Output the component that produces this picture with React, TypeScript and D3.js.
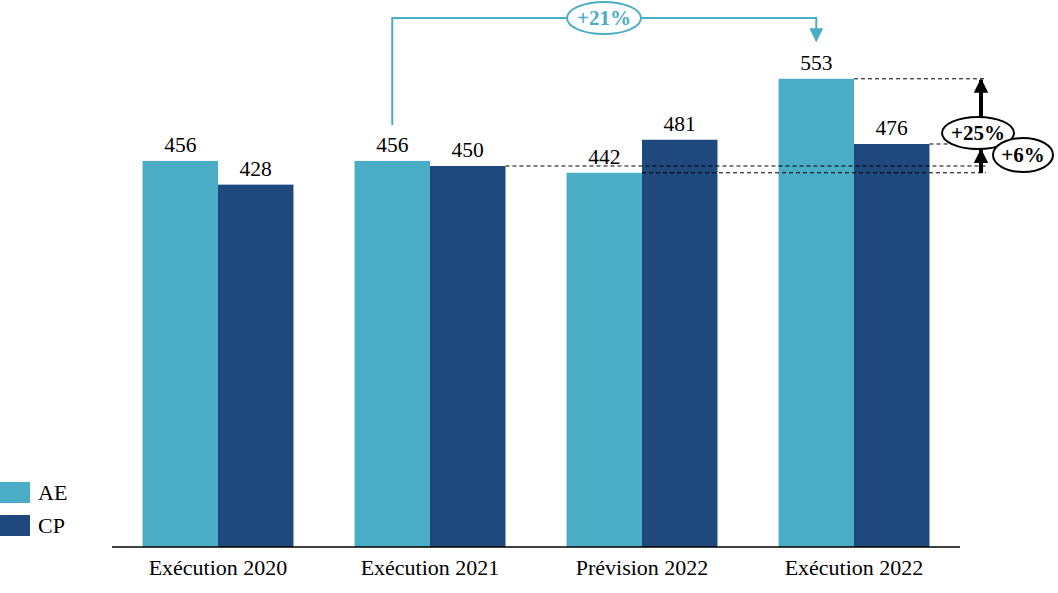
import React from 'react';
import * as d3 from 'd3';

const categories = ['Exécution 2020', 'Exécution 2021', 'Prévision 2022', 'Exécution 2022'];
const seriesNames = ['AE', 'CP'];
const aeValues = [456, 456, 442, 553];
const cpValues = [428, 450, 481, 476];
const colors = ['#4BACC6', '#1F497D'];

const W = 1058;
const H = 593;
const FONT = '"Palatino Linotype", "Book Antiqua", Palatino, "Liberation Serif", serif';

const App = () => {
  const x0 = d3.scaleBand<string>().domain(categories).range([112, 960]).paddingInner(0.288).paddingOuter(0.144);
  const x1 = d3.scaleBand<string>().domain(seriesNames).range([0, x0.bandwidth()]).padding(0);
  const y = d3.scaleLinear().domain([0, 600]).range([547, 39]);

  const values = [aeValues, cpValues];
  const aeCenter = (i: number) => (x0(categories[i]) as number) + (x1('AE') as number) + x1.bandwidth() / 2;
  const cpRight = (i: number) => (x0(categories[i]) as number) + (x1('CP') as number) + x1.bandwidth();
  const aeRight = (i: number) => (x0(categories[i]) as number) + x1.bandwidth();

  const arrowX = 981;
  const dashEnd = 986;

  // bracket between Exécution 2021 AE and Exécution 2022 AE
  const bx1 = aeCenter(1);
  const bx2 = aeCenter(3);
  const bTop = 18;

  return (
    <svg width={W} height={H} style={{ position: 'absolute', left: 0, top: 0 }} fontFamily={FONT}>
      <defs>
        <marker id="headBlack" viewBox="0 0 10 10" refX="9" refY="5" markerWidth="3.6" markerHeight="3.6" orient="auto">
          <path d="M0,0 L10,5 L0,10 z" fill="#000" />
        </marker>
        <marker id="headTeal" viewBox="0 0 10 10" refX="9" refY="5" markerWidth="7" markerHeight="7" orient="auto">
          <path d="M0,0 L10,5 L0,10 z" fill={colors[0]} />
        </marker>
      </defs>

      {/* bars */}
      {categories.map((c, i) => (
        <g key={c} transform={`translate(${x0(c)},0)`}>
          {seriesNames.map((s, k) => {
            const v = values[k][i];
            return (
              <g key={s}>
                <rect x={x1(s)} y={y(v)} width={x1.bandwidth()} height={y(0) - y(v)} fill={colors[k]} />
                <text x={(x1(s) as number) + x1.bandwidth() / 2} y={y(v) - 9} textAnchor="middle" fontSize={21.5} fill="#000">
                  {v}
                </text>
              </g>
            );
          })}
        </g>
      ))}

      {/* axis */}
      <line x1={112} x2={960} y1={y(0)} y2={y(0)} stroke="#000" strokeWidth={1.3} />
      {categories.map(c => (
        <text key={c} x={(x0(c) as number) + x0.bandwidth() / 2} y={575} textAnchor="middle" fontSize={22} fill="#000">
          {c}
        </text>
      ))}

      {/* dashed reference lines */}
      <g stroke="#000" strokeWidth={1} strokeDasharray="4,3">
        <line x1={cpRight(1)} x2={dashEnd} y1={y(cpValues[1])} y2={y(cpValues[1])} />
        <line x1={aeRight(2)} x2={dashEnd} y1={y(aeValues[2])} y2={y(aeValues[2])} />
        <line x1={cpRight(3)} x2={dashEnd} y1={y(cpValues[3])} y2={y(cpValues[3])} />
        <line x1={aeRight(3)} x2={dashEnd} y1={y(aeValues[3])} y2={y(aeValues[3])} />
      </g>

      {/* black arrows */}
      <line x1={arrowX} x2={arrowX} y1={y(aeValues[2])} y2={y(aeValues[3]) + 1} stroke="#000" strokeWidth={4} markerEnd="url(#headBlack)" />
      <line x1={arrowX} x2={arrowX} y1={y(aeValues[2])} y2={y(cpValues[3]) + 6} stroke="#000" strokeWidth={4} markerEnd="url(#headBlack)" />
      <ellipse cx={978} cy={133} rx={36} ry={16} fill="#fff" stroke="#000" strokeWidth={2} />
      <text x={978} y={140} textAnchor="middle" fontSize={21} fontWeight="bold" fill="#000">+25%</text>
      <ellipse cx={1023} cy={155} rx={30} ry={17} fill="#fff" stroke="#000" strokeWidth={2} />
      <text x={1023} y={162} textAnchor="middle" fontSize={21} fontWeight="bold" fill="#000">+6%</text>

      {/* teal bracket */}
      <path
        d={`M${bx1},${125} V${bTop} H${bx2} V${y(aeValues[3]) - 38}`}
        fill="none"
        stroke={colors[0]}
        strokeWidth={2}
        markerEnd="url(#headTeal)"
      />
      <ellipse cx={604} cy={bTop} rx={37} ry={16} fill="#fff" stroke={colors[0]} strokeWidth={2} />
      <text x={604} y={bTop + 7} textAnchor="middle" fontSize={21} fontWeight="bold" fill={colors[0]}>+21%</text>

      {/* legend */}
      {seriesNames.map((s, k) => (
        <g key={s} transform={`translate(0,${482 + k * 33})`}>
          <rect x={0} y={0} width={30} height={21} fill={colors[k]} />
          <text x={38} y={18} fontSize={22} fill="#000">{s}</text>
        </g>
      ))}
    </svg>
  );
};

export default App;
